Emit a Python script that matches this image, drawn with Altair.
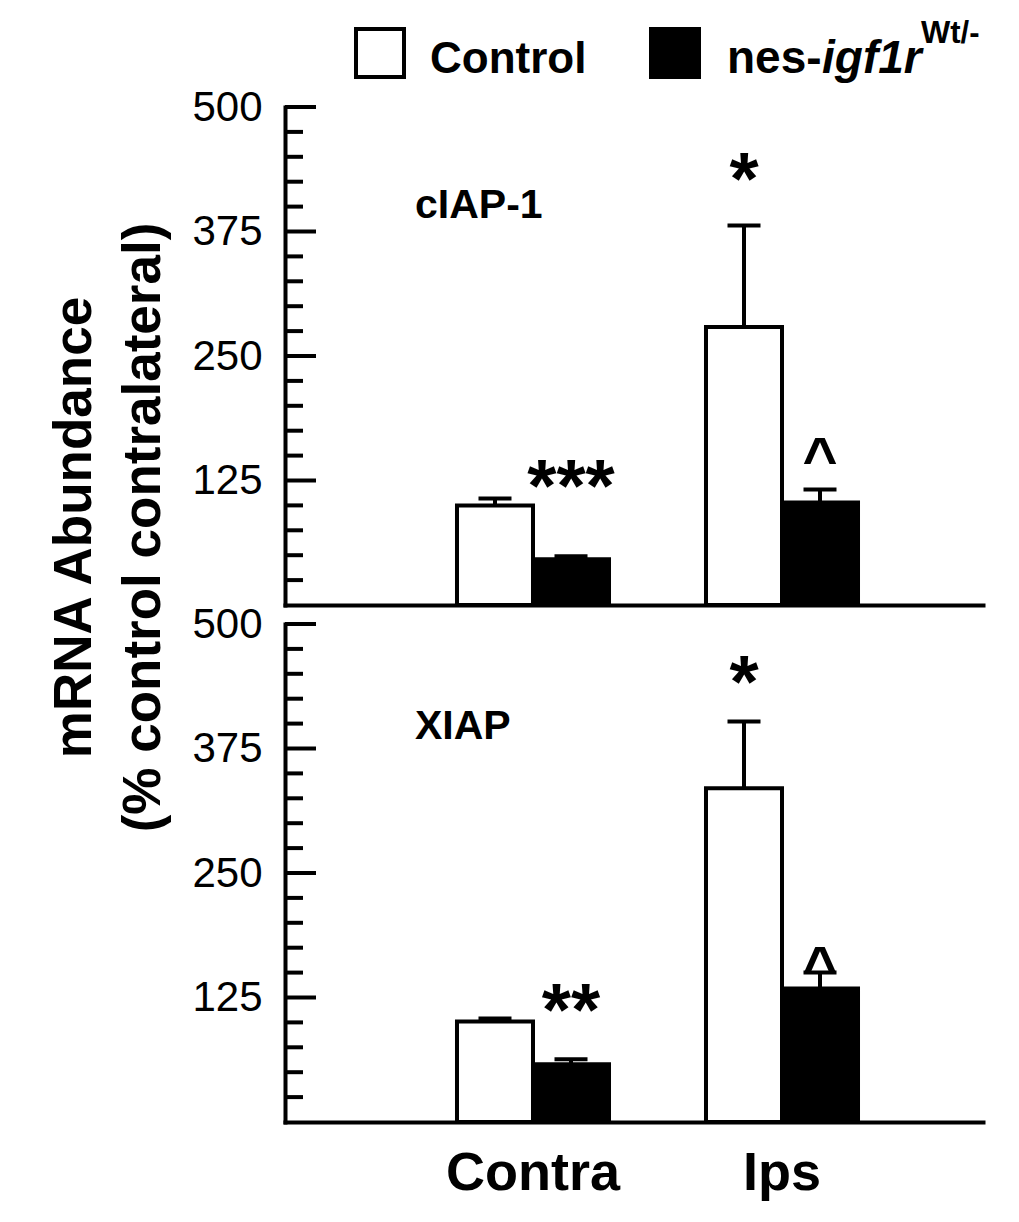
import altair as alt
import pandas as pd

FONT = "Liberation Sans"

sites = ["Contra", "Ips"]
groups = ["Control", "nes-igf1r"]

# order: Contra/Control, Contra/nes, Ips/Control, Ips/nes
ciap_mean = [100, 46, 279, 103]
ciap_err = [7, 3, 102, 13]
xiap_mean = [101, 58, 335, 134]
xiap_err = [3, 5, 67, 16]

ciap_marks = ["***", "*", "^"]
ciap_mark_site = ["Contra", "Ips", "Ips"]
ciap_mark_group = ["nes-igf1r", "Control", "nes-igf1r"]
ciap_mark_y = [94, 403, 127]

xiap_marks = ["**", "*", "^"]
xiap_mark_site = ["Contra", "Ips", "Ips"]
xiap_mark_group = ["nes-igf1r", "Control", "nes-igf1r"]
xiap_mark_y = [87, 417, 135]

major_ticks = [125, 250, 375, 500]
minor_ticks = [25, 50, 75, 100, 150, 175, 200, 225, 275, 300, 325, 350,
               400, 425, 450, 475]

panel_labels = ["cIAP-1", "XIAP"]
y_title = ["mRNA Abundance", "(% control contralateral)"]
legend_texts = ["Control", "nes-", "igf1r", "Wt/-"]

W, H = 698, 498

xscale = alt.Scale(domain=sites, paddingInner=0, paddingOuter=0.4016, align=0.6175)
xoff = alt.Scale(domain=groups, paddingInner=0, paddingOuter=0.638)
yscale = alt.Scale(domain=[0, 500], nice=False, zero=True)


def make_df(mean, err):
    rows = []
    i = 0
    for s in sites:
        for g in groups:
            rows.append({"site": s, "group": g, "mean": mean[i], "upper": mean[i] + err[i]})
            i += 1
    return pd.DataFrame(rows)


def panel(mean, err, mk_text, mk_site, mk_group, mk_y, label, label_y, bottom, with_title):
    df = make_df(mean, err)
    xaxis = alt.Axis(title=None, ticks=False, tickSize=0, domainWidth=4, domainColor="black",
                     domainCap="square", labels=bottom, labelFont=FONT, labelFontSize=54,
                     labelFontWeight="bold", labelColor="black", labelPadding=24, labelAngle=0,
                     grid=False)
    ykw = dict(values=major_ticks, ticks=False, tickSize=0, domainWidth=4, domainColor="black",
               domainCap="square", labelFont=FONT, labelFontSize=42, labelColor="black",
               labelPadding=23, grid=False)
    if with_title:
        yaxis = alt.Axis(title=y_title, titleFont=FONT, titleFontSize=53, titleFontWeight="bold",
                         titleColor="black", titleAngle=270, titleX=-237, titleY=420,
                         titleBaseline="top", titleAlign="center", titleLineHeight=69, **ykw)
    else:
        yaxis = alt.Axis(title=None, **ykw)

    X = alt.X("site:N", scale=xscale, axis=xaxis)
    XO = alt.XOffset("group:N", scale=xoff)

    def Y(f):
        return alt.Y(f, scale=yscale, axis=yaxis)

    bars = alt.Chart(df).mark_bar(stroke="black", strokeWidth=4).encode(
        x=X, xOffset=XO, y=Y("mean:Q"),
        fill=alt.Fill("group:N", scale=alt.Scale(domain=groups, range=["white", "black"]), legend=None),
    )
    err_r = alt.Chart(df).mark_rule(color="black", strokeWidth=4).encode(
        x=X, xOffset=XO, y=Y("mean:Q"), y2="upper:Q")
    caps = alt.Chart(df).mark_tick(color="black", thickness=4, size=33, orient="horizontal", opacity=1).encode(
        x=X, xOffset=XO, y=Y("upper:Q"))

    maj = alt.Chart(pd.DataFrame({"v": major_ticks})).mark_rule(color="black", strokeWidth=4).encode(
        y=Y("v:Q"), x=alt.value(0), x2=alt.value(31))
    mnr = alt.Chart(pd.DataFrame({"v": minor_ticks})).mark_rule(color="black", strokeWidth=4).encode(
        y=Y("v:Q"), x=alt.value(0), x2=alt.value(18))

    adf = pd.DataFrame({"site": mk_site, "group": mk_group, "t": mk_text, "y": mk_y})
    ast = alt.Chart(adf).transform_filter(alt.datum.t != "^").mark_text(
        font=FONT, fontSize=75, fontWeight="bold", baseline="alphabetic", color="black").encode(
        x=X, xOffset=XO, y=Y("y:Q"), text="t:N")
    car = alt.Chart(adf).transform_filter(alt.datum.t == "^").mark_text(
        font=FONT, fontSize=60, fontWeight="bold", baseline="alphabetic", color="black").encode(
        x=X, xOffset=XO, y=Y("y:Q"), text="t:N")

    lab = alt.Chart(pd.DataFrame({"t": [label]})).mark_text(
        font=FONT, fontSize=41, fontWeight="bold", align="left", baseline="alphabetic",
        color="black").encode(x=alt.value(130), y=alt.value(label_y), text="t:N")

    return alt.layer(bars, err_r, caps, maj, mnr, ast, car, lab).properties(width=W, height=H)


top = panel(ciap_mean, ciap_err, ciap_marks, ciap_mark_site, ciap_mark_group, ciap_mark_y,
            panel_labels[0], 111, False, True)
bottom = panel(xiap_mean, xiap_err, xiap_marks, xiap_mark_site, xiap_mark_group, xiap_mark_y,
               panel_labels[1], 115, True, False)

leg_base = alt.Chart(pd.DataFrame({"k": [0]}))
box_w = leg_base.mark_square(size=2304, filled=True, fill="white", stroke="black", strokeWidth=4,
                             opacity=1).encode(x=alt.value(95), y=alt.value(45))
box_b = leg_base.mark_square(size=2304, filled=True, fill="black", stroke="black", strokeWidth=4,
                             opacity=1).encode(x=alt.value(390), y=alt.value(45))


def leg_text(txt, x, y, size, style="normal"):
    return alt.Chart(pd.DataFrame({"t": [txt]})).mark_text(
        font=FONT, fontSize=size, fontWeight="bold", fontStyle=style, align="left",
        baseline="alphabetic", color="black").encode(x=alt.value(x), y=alt.value(y), text="t:N")


legend = alt.layer(
    box_w, box_b,
    leg_text(legend_texts[0], 145, 65, 44),
    leg_text(legend_texts[1], 442, 65, 46),
    leg_text(legend_texts[2], 537, 65, 46, "italic"),
    leg_text(legend_texts[3], 636, 35, 31),
).properties(width=W, height=80)

chart = alt.vconcat(legend, top, bottom, spacing=19, bounds="flush").properties(
    padding={"left": 40, "top": 0, "right": 10, "bottom": 10}
).configure_view(strokeWidth=0)

chart.save("out.html", embed_options={"renderer": "svg", "actions": False})
